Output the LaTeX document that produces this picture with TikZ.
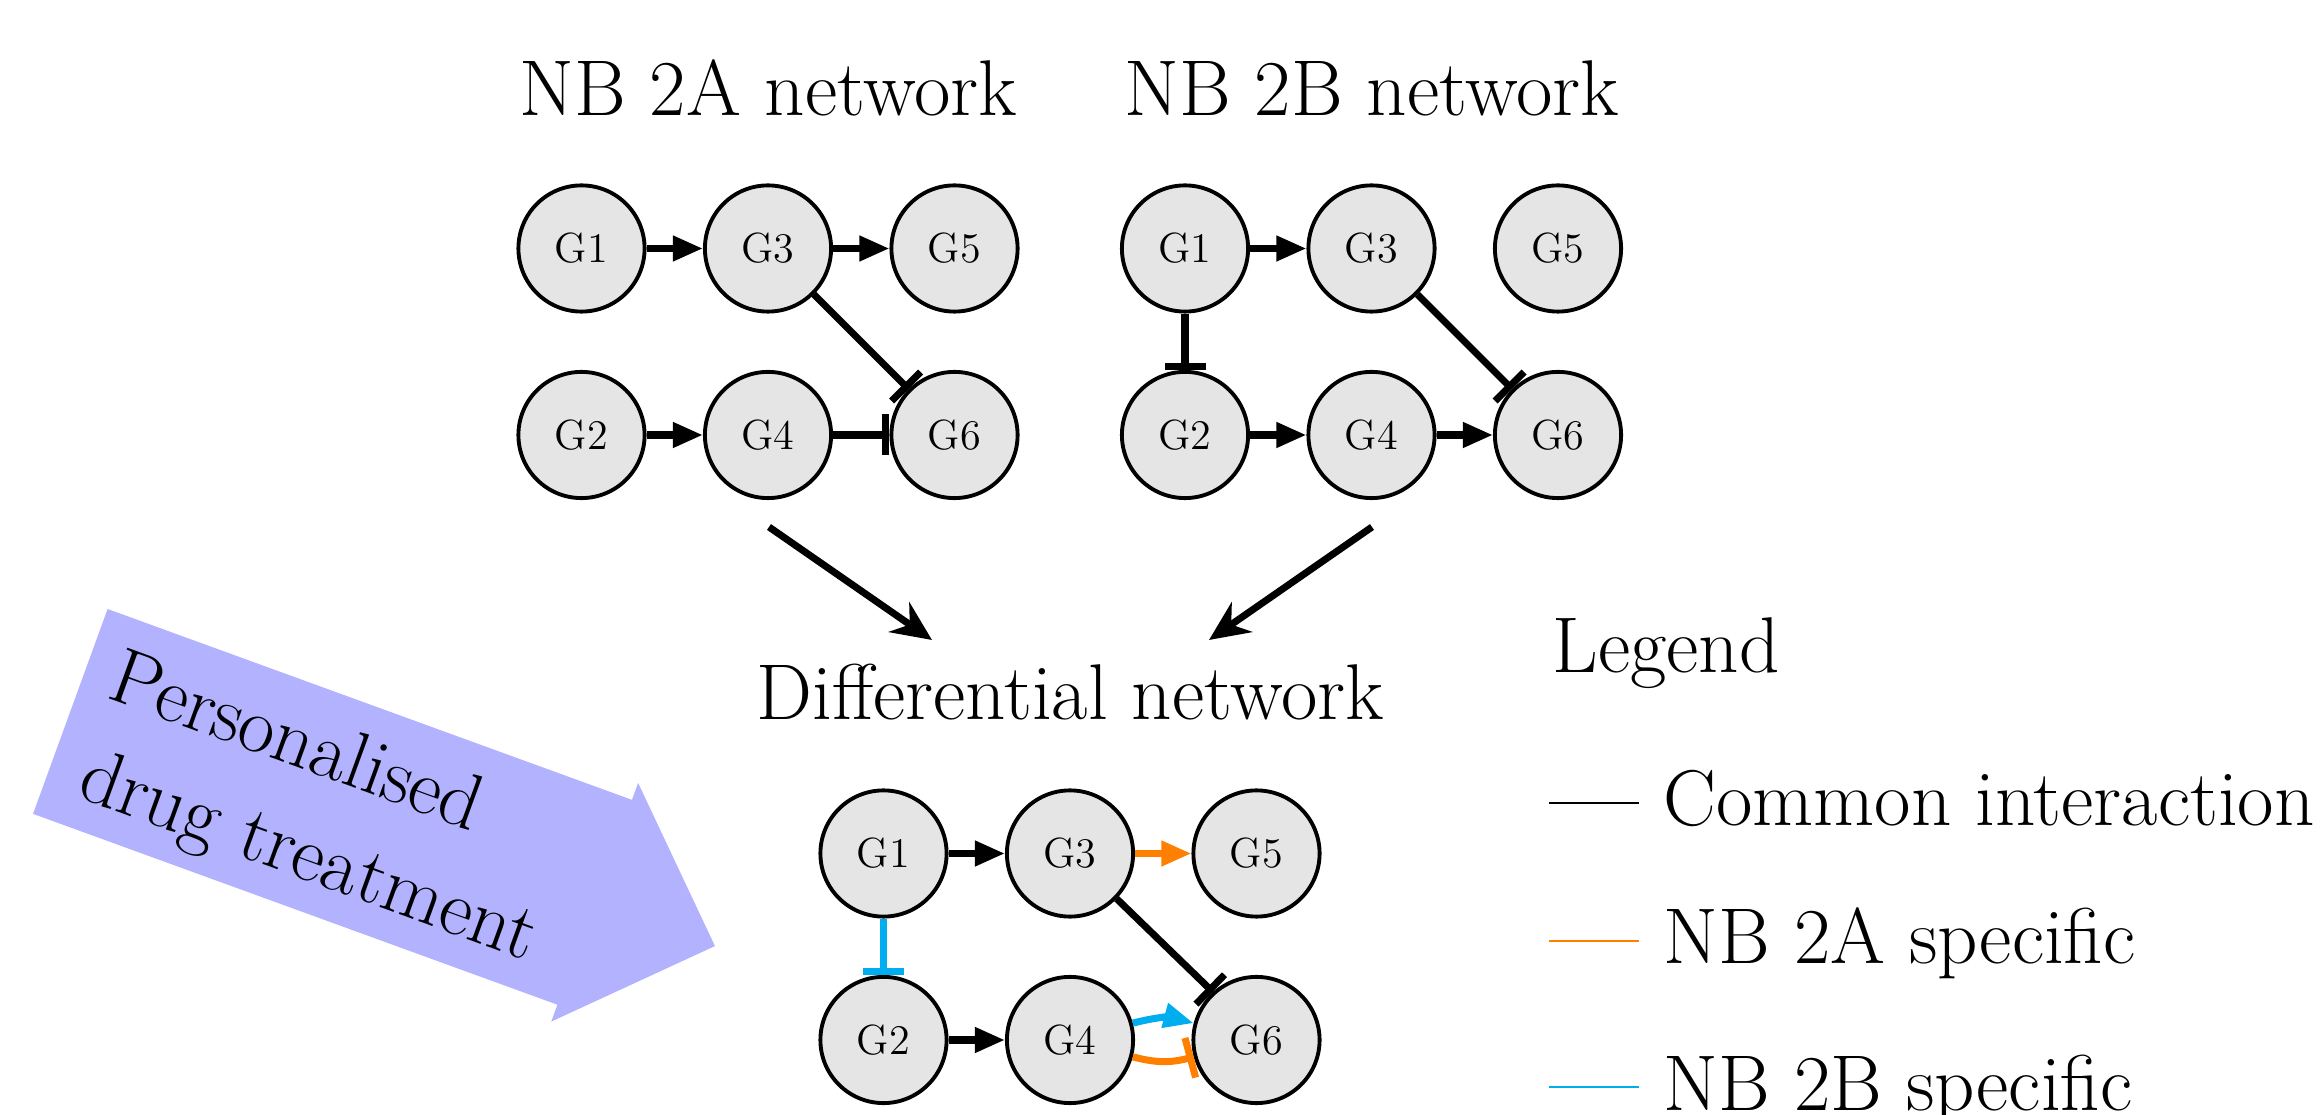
\documentclass[tikz,border=0pt]{standalone}
\usepackage{tikz}
\usetikzlibrary{arrows.meta}
\definecolor{nbA}{RGB}{255,128,0}
\definecolor{nbB}{RGB}{0,174,239}
\definecolor{drugblue}{RGB}{178,178,255}
\def\bigfont{\fontsize{22.5}{27}\selectfont}
\tikzset{
	gene/.style={circle, draw, line width=1.1pt, fill=black!10, minimum size=1.262cm, inner sep=0pt, font=\fontsize{12}{14}\selectfont},
	act/.style={-{Triangle[length=3mm,width=2.4mm]}, line width=2pt},
	inh/.style={-{Bar[width=4.1mm]}, line width=2pt},
	title/.style={anchor=base, inner sep=0pt, font=\bigfont},
	label/.style={anchor=base west, inner sep=0pt, font=\bigfont},
	flow/.style={-{Stealth[length=4mm,width=3.6mm]}, line width=2pt},
	key/.style={line width=0.8pt},
}

\begin{document}
\begin{tikzpicture}
			%%%%% START %%%%%
			\useasboundingbox (0,0) rectangle (23.2,-11.15);
			
			% NB 2A network
			\node[title] (ta) at (7.68,-1.16) {NB 2A network};
			\node[gene] (a1) at (5.815,-2.485) {G1};
			\node[gene] (a3) at (7.68,-2.485) {G3};
			\node[gene] (a5) at (9.545,-2.485) {G5};
			\node[gene] (a2) at (5.815,-4.35) {G2};
			\node[gene] (a4) at (7.68,-4.35) {G4};
			\node[gene] (a6) at (9.545,-4.35) {G6};
			\draw[act] (a1) -- (a3);
			\draw[act] (a3) -- (a5);
			\draw[act] (a2) -- (a4);
			\draw[inh] (a4) -- (a6);
			\draw[inh] (a3) -- (a6);
			
			% NB 2B network
			\node[title] (tb) at (13.715,-1.16) {NB 2B network};
			\node[gene] (b1) at (11.85,-2.485) {G1};
			\node[gene] (b3) at (13.715,-2.485) {G3};
			\node[gene] (b5) at (15.58,-2.485) {G5};
			\node[gene] (b2) at (11.85,-4.35) {G2};
			\node[gene] (b4) at (13.715,-4.35) {G4};
			\node[gene] (b6) at (15.58,-4.35) {G6};
			\draw[act] (b1) -- (b3);
			\draw[inh] (b1) -- (b2);
			\draw[act] (b2) -- (b4);
			\draw[act] (b4) -- (b6);
			\draw[inh] (b3) -- (b6);
			
			% towards the differential network
			\coordinate (fa) at (7.69,-5.27);
			\coordinate (fb) at (13.72,-5.27);
			\coordinate (ea) at (9.32,-6.40);
			\coordinate (eb) at (12.09,-6.40);
			\draw[flow] (fa) -- (ea);
			\draw[flow] (fb) -- (eb);
			
			% differential network
			\node[title] (td) at (10.70,-7.20) {Differential network};
			\node[gene] (d1) at (8.835,-8.535) {G1};
			\node[gene] (d3) at (10.70,-8.535) {G3};
			\node[gene] (d5) at (12.565,-8.535) {G5};
			\node[gene] (d2) at (8.835,-10.40) {G2};
			\node[gene] (d4) at (10.70,-10.40) {G4};
			\node[gene] (d6) at (12.565,-10.40) {G6};
			\draw[act] (d1) -- (d3);
			\draw[act, color=nbA] (d3) -- (d5);
			\draw[inh, color=nbB] (d1) -- (d2);
			\draw[act] (d2) -- (d4);
			\draw[inh] (d3) -- (d6);
			\draw[act, color=nbB] (d4) to[bend left=15] (d6);
			\draw[inh, color=nbA] (d4) to[bend right=15] (d6);
			
			% drug arrow
			\begin{scope}[shift={(1.076,-6.09)}, rotate=-20]
				\fill[drugblue] (0,0) -- (5.58,0) -- (5.58,0.18) -- (6.86,-1.09) -- (5.58,-2.36) -- (5.58,-2.18) -- (0,-2.18) -- cycle;
				\node[label, rotate=-20] (drug1) at (0.28,-0.84) {Personalised};
				\node[label, rotate=-20] (drug2) at (0.33,-1.87) {drug treatment};
			\end{scope}
			
			% legend
			\node[label] (leg) at (15.52,-6.73) {Legend};
			\node[label] (lc) at (16.63,-8.26) {Common interaction};
			\node[label] (la) at (16.63,-9.64) {NB 2A specific};
			\node[label] (lb) at (16.63,-11.10) {NB 2B specific};
			\draw[key] (15.49,-8.03) -- (16.39,-8.03);
			\draw[key, color=nbA] (15.49,-9.41) -- (16.39,-9.41);
			\draw[key, color=nbB] (15.49,-10.87) -- (16.39,-10.87);
			
			%%%%% END %%%%%
\end{tikzpicture}
\end{document}
